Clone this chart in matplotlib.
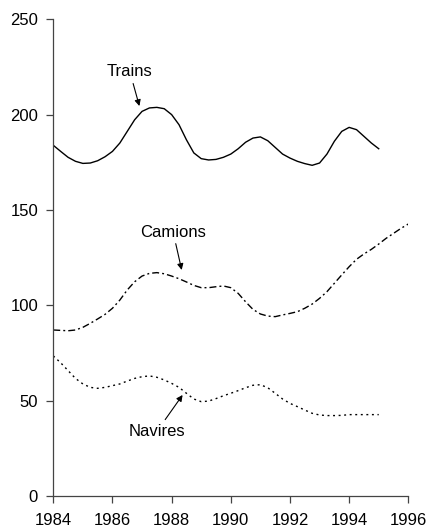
import numpy as np
import matplotlib
matplotlib.use("Agg")
import matplotlib.pyplot as plt

plt.rcParams['font.family'] = ['Liberation Sans', 'DejaVu Sans']

# values every quarter year
years = [1984 + 0.25 * i for i in range(45)]          # 1984 .. 1995
years_camions = [1984 + 0.25 * i for i in range(49)]  # 1984 .. 1996

trains = [184.0, 180.8, 177.7, 175.6, 174.5, 174.7, 175.9, 178.0, 180.8,
          185.2, 191.3, 197.4, 201.8, 203.6, 203.9, 203.2, 200.1, 194.8,
          186.9, 180.0, 177.0, 176.3, 176.6, 177.7, 179.4, 182.2, 185.6,
          187.8, 188.4, 186.4, 182.9, 179.4, 177.3, 175.6, 174.4, 173.5,
          174.7, 179.4, 186.1, 191.3, 193.4, 192.2, 188.7, 185.2, 182.2]

camions = [87.1, 86.9, 86.7, 87.1, 88.5, 90.6, 92.9, 95.3, 98.5,
           102.8, 108.1, 112.4, 115.4, 116.8, 117.2, 116.6, 115.4, 114.0,
           112.3, 110.5, 109.3, 109.3, 109.8, 110.2, 109.3, 106.3, 101.9,
           97.9, 95.5, 94.4, 94.1, 95.0, 95.8, 96.7, 98.5, 100.7,
           103.7, 107.2, 111.6, 116.0, 120.3, 124.2, 127.0, 129.4, 132.2,
           135.2, 137.8, 140.4, 142.7]

navires = [73.5, 69.9, 65.8, 61.7, 58.8, 57.0, 56.5, 57.0, 57.9,
           58.8, 60.3, 61.7, 62.6, 63.0, 62.3, 60.9, 59.1, 57.0,
           53.9, 50.9, 49.5, 49.8, 51.1, 52.6, 53.9, 55.3, 56.8,
           58.1, 58.4, 56.8, 53.9, 50.9, 48.6, 46.9, 45.1, 43.4,
           42.5, 42.2, 42.2, 42.3, 42.7, 42.7, 42.7, 42.7, 42.7]

fig = plt.figure(figsize=(4.28, 5.27), dpi=100)
ax = fig.add_axes([0.1245, 0.0588, 0.8295, 0.9042])

ax.plot(years, trains, color='black', lw=1.0)
ax.plot(years_camions, camions, color='black', lw=1.0,
        dashes=(5, 2.2, 1.4, 2.2))
ax.plot(years, navires, color='black', lw=1.0, dashes=(1.4, 2.6))

ax.set_xlim(1984, 1996)
ax.set_ylim(0, 250)
ax.set_xticks(range(1984, 1997, 2))
ax.set_yticks(range(0, 251, 50))

for s in ['top', 'right']:
    ax.spines[s].set_visible(False)
for s in ['left', 'bottom']:
    ax.spines[s].set_color('#444444')
    ax.spines[s].set_linewidth(0.9)

ax.tick_params(axis='both', direction='out', length=5, width=0.9,
               color='#444444', labelsize=12)
ax.tick_params(axis='x', pad=7)
ax.tick_params(axis='y', pad=6)

arrow = dict(arrowstyle='-|>', color='black', lw=0.8, mutation_scale=9,
             shrinkA=1, shrinkB=0)
ax.annotate('Trains', xy=(1986.91, 204.6), xytext=(1986.59, 222.5),
            ha='center', va='center', fontsize=12, arrowprops=arrow)
ax.annotate('Camions', xy=(1988.34, 118.6), xytext=(1988.05, 138.5),
            ha='center', va='center', fontsize=12, arrowprops=arrow)
ax.annotate('Navires', xy=(1988.37, 53), xytext=(1987.51, 34.1),
            ha='center', va='center', fontsize=12, arrowprops=arrow)

fig.savefig('out.png', dpi=100)
